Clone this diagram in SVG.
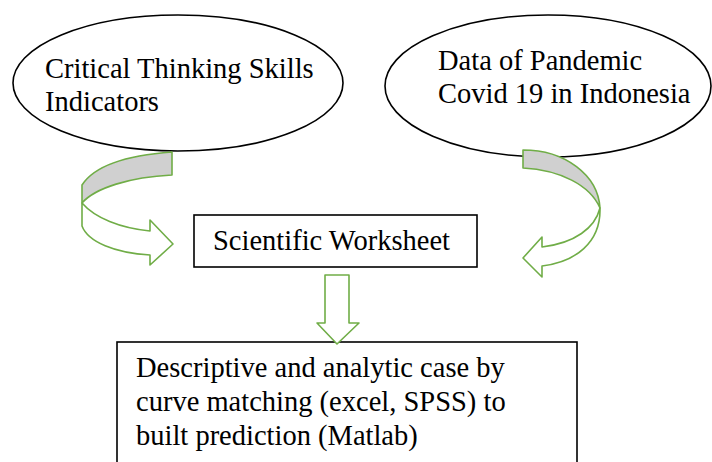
<svg xmlns="http://www.w3.org/2000/svg" width="712" height="462" viewBox="0 0 712 462">
<style>
.node{fill:#fff;stroke:#000;stroke-width:1.6}
.t{font-family:"Liberation Serif","Times New Roman",serif;font-size:28.5px;fill:#000}
.arr{stroke:#70AD47;stroke-width:1.6;stroke-linejoin:round}
.gray{fill:#d0d0d0}
.white{fill:#fff}
</style>
<rect width="712" height="462" fill="#fff"/>
<g id="node-critical">
<ellipse class="node" cx="178" cy="83" rx="165" ry="68"/>
<text class="t" x="45" y="78">Critical Thinking Skills</text>
<text class="t" x="45" y="111">Indicators</text>
</g>
<g id="node-data">
<ellipse class="node" cx="548" cy="86" rx="163" ry="71"/>
<text class="t" x="438" y="70">Data of Pandemic</text>
<text class="t" x="438" y="103">Covid 19 in Indonesia</text>
</g>
<g id="node-worksheet">
<rect class="node" x="194" y="215" width="283" height="52"/>
<text class="t" x="213" y="250">Scientific Worksheet</text>
</g>
<g id="node-analysis">
<rect class="node" x="117" y="342" width="460" height="130"/>
<text class="t" x="136" y="377">Descriptive and analytic case by</text>
<text class="t" x="136" y="411">curve matching (excel, SPSS) to</text>
<text class="t" x="136" y="445">built prediction (Matlab)</text>
</g>
<g id="connectors">
<path class="arr gray" d="M172,152 L172,175 C130,177 95,188 82,203 L82,185 C95,165 130,155 172,152 Z"/>
<path class="arr white" d="M82,203 C95,218 120,228 150,231 L150,220 L173,244 L150,265 L150,255 C115,253 88,242 82,226 Z"/>
<path class="arr gray" d="M523,150 C565,150 598,175 600,208 C590,185 560,170 523,168 Z"/>
<path class="arr white" d="M600,208 C595,228 575,243 542,247 L542,237 L523,258 L542,277 L542,266 C575,262 601,243 600,208 Z"/>
<path class="arr white" d="M325,275 L349,275 L349,323 L359,323 L337,344 L317,323 L325,323 Z"/>
</g>
</svg>
